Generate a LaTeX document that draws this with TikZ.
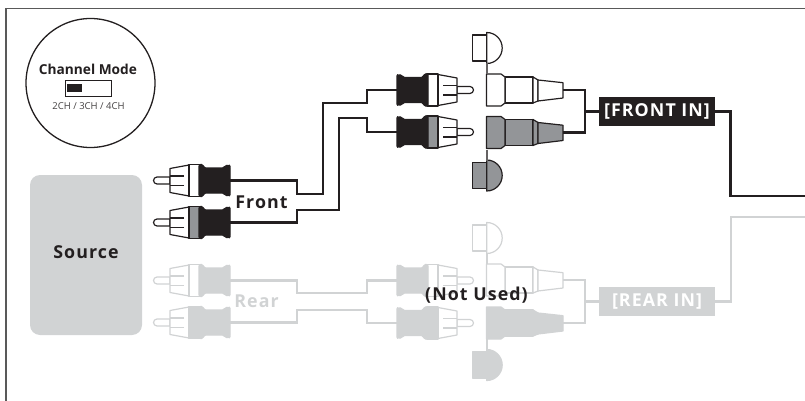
\documentclass[tikz,border=0pt]{standalone}
\usepackage{fontspec}
\setmainfont{Open Sans}
\newfontfamily\labfont[LetterSpace=6]{Open Sans}
\definecolor{ink}{HTML}{231F20}
\definecolor{midgray}{HTML}{939598}
\definecolor{pale}{HTML}{D1D3D4}
\newcommand{\rcaplug}[7]{% x,y,xscale,line,boot,ring,name
  \coordinate (#7) at (#1,#2);
  \begin{scope}[shift={(#1,#2)},xscale=#3,draw=#4,line width=1.2pt,line join=round]
    \draw[fill=white] (60,-3.5) -- (73,-3.5) arc[start angle=-90,end angle=90,radius=3.5] -- (60,3.5) -- cycle;
    \draw[fill=white] (41,-15.5) -- (60,-12) -- (60,12) -- (41,15.5) -- cycle;
    \draw (46,-4.5) -- (60,-4.5) (46,5) -- (60,5);
    \draw[fill=#6] (30,-16) rectangle (41,16);
    \draw[fill=#5,rounded corners=1.5pt] (0,-14) -- (0.5,-15) -- (5,-15) -- (6,-12.5) -- (26,-12.5) -- (27,-16) -- (31,-16) -- (31,16) -- (27,16) -- (26,12.5) -- (6,12.5) -- (5,15) -- (0.5,15) -- (0,14) -- cycle;
  \end{scope}}
\newcommand{\yadapter}[5]{% y,line,fill,collar-line,name
  \coordinate (#5) at (563,#1);
  \begin{scope}[shift={(486,#1)},draw=#2,fill=#3,line width=1.2pt,line join=round]
    \draw[fill=#3] (19,-13) -- (47,-13) -- (47,13) -- (19,13) -- cycle;
    \draw[fill=#3] (47,-13) -- (52,-10) -- (52,11) -- (47,13) -- cycle;
    \draw[fill=#3] (52,-10) -- (77,-7.3) -- (77,8) -- (52,11) -- cycle;
    \draw[fill=#3] (0.5,-16) -- (15,-16) -- (19,-13) -- (19,13) -- (15,16) -- (0.5,16) -- cycle;
  \end{scope}}
\newcommand{\audiocap}[4]{% y,line,fill,name
  \coordinate (#4) at (486.7,#1);
  \begin{scope}[shift={(486.7,#1)},line width=1.2pt,line join=round]
    \draw[draw=#2,fill=#3] (0,-15.5) arc[start angle=-90,end angle=90,radius=15.5] -- cycle;
    \draw[draw=#2,fill=#3] (-14.5,-13) rectangle (0,13);
  \end{scope}}
\tikzset{
  wire/.style={line width=2.2pt,draw=ink,line join=miter},
  palewire/.style={line width=2.2pt,draw=pale,line join=miter},
  lab/.style={inner sep=0pt,font=\labfont\bfseries\fontsize{17.8}{20}\selectfont},
  inbox/.style={lab,minimum width=116pt,minimum height=29pt,text=white},
}
\begin{document}
\begin{tikzpicture}[x=1pt,y=-1pt]
\useasboundingbox (0,0) rectangle (805,401);
% frame
\coordinate (frameA) at (6,401);
\coordinate (frameB) at (6,8.5);
\coordinate (frameC) at (805,8.5);
\draw[line width=1.6pt,draw=black!65] (frameA) -- (frameB) -- (frameC);
% channel mode
\node[circle,draw=ink,line width=1.3pt,minimum size=129pt,inner sep=0pt] (mode) at (90.5,83) {};
\node[font=\bfseries\fontsize{13.7}{15}\selectfont,text=ink,inner sep=0pt] (modetxt) at (88,69) {Channel Mode};
\node[draw=ink,line width=0.9pt,minimum width=46pt,minimum height=16pt,inner sep=0pt] (sw) at (88,88) {};
\node[fill=ink,minimum width=15pt,minimum height=8pt,inner sep=0pt] (swk) at (74.5,88) {};
\node[font=\fontsize{9.5}{11}\selectfont,text=ink!85,inner sep=0pt] (chs) at (88.5,106) {2CH / 3CH / 4CH};
% source
\node[fill=pale,rounded corners=10pt,minimum width=112pt,minimum height=160pt,inner sep=0pt] (src) at (86,255) {};
\node[lab,text=ink] (srctxt) at (86,252) {Source};
% rear group
\rcaplug{230}{280.5}{-1}{pale}{pale}{white}{rlA}
\rcaplug{230}{322.5}{-1}{pale}{pale}{pale}{rlB}
\rcaplug{397}{280.5}{1}{pale}{pale}{white}{rmA}
\rcaplug{397}{323}{1}{pale}{pale}{pale}{rmB}
\draw[palewire] (rlA) -- (297,280.5) -- (297,293) -- (366.7,293) -- (366.7,280.5) -- (rmA);
\draw[palewire] (rlB) -- (297,322.5) -- (297,310) -- (366.7,310) -- (366.7,323) -- (rmB);
\audiocap{238}{pale}{white}{rcA}
\audiocap{365}{pale}{pale}{rcB}
\yadapter{280}{pale}{white}{pale}{raA}
\yadapter{323}{pale}{pale}{pale}{raB}
\draw[line width=1.9pt,draw=pale] (rcA) ++(0,15) -- ++(0,11);
\draw[line width=1.9pt,draw=pale] (rcB) ++(0,-15) -- ++(0,-11);
\node[fill=pale,inbox] (rearin) at (657,301.5) {[REAR IN]};
\draw[palewire] (raA) -- (585,280) -- (585,323) -- (raB);
\coordinate (rj) at (585,301.5);
\draw[palewire] (rj) -- (rearin);
\coordinate (rout) at (805,217);
\draw[palewire] (rearin) -- (731,301.5) -- (731,217) -- (rout);
\node[lab,text=pale] (reartxt) at (256.5,301) {Rear};
\node[lab,text=ink] (notused) at (476.5,295) {(Not Used)};
% front group
\rcaplug{230}{180.5}{-1}{ink}{ink}{white}{flA}
\rcaplug{230}{222.5}{-1}{ink}{ink}{midgray}{flB}
\rcaplug{397}{90}{1}{ink}{ink}{white}{fmA}
\rcaplug{397}{132}{1}{ink}{ink}{midgray}{fmB}
\draw[wire] (flA) -- (297,180.5) -- (297,194) -- (322.7,194) -- (322.7,103) -- (366.7,103) -- (366.7,90) -- (fmA);
\draw[wire] (flB) -- (297,222.5) -- (297,210) -- (339,210) -- (339,118) -- (366.7,118) -- (366.7,132) -- (fmB);
\node[lab,text=ink] (fronttxt) at (261.5,202) {Front};
\audiocap{48}{ink}{white}{fcA}
\audiocap{175.5}{ink}{midgray}{fcB}
\yadapter{90}{ink}{white}{ink}{faA}
\yadapter{132.5}{ink}{midgray}{ink}{faB}
\draw[line width=1.9pt,draw=ink!70] (fcA) ++(0,15) -- ++(0,11);
\draw[line width=1.9pt,draw=ink!70] (fcB) ++(0,-15) -- ++(0,-11);
\node[fill=ink,inbox] (frontin) at (657,111.5) {[FRONT IN]};
\draw[wire] (faA) -- (585,90) -- (585,132.5) -- (faB);
\coordinate (fj) at (585,111.5);
\draw[wire] (fj) -- (frontin);
\coordinate (fout) at (805,196);
\draw[wire] (frontin) -- (730.5,111.5) -- (730.5,196) -- (fout);
\end{tikzpicture}
\end{document}
